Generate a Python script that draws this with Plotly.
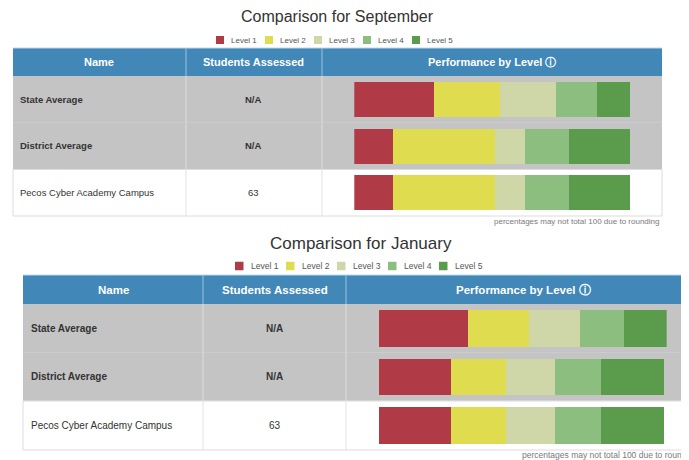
import plotly.graph_objects as go

# The page body adds an 8px margin, so the figure is placed at (8, 8) in the window.
OFF = 8
W, H = 689 - OFF, 460 - OFF

# ---------------- data ----------------
levels = ["Level 1", "Level 2", "Level 3", "Level 4", "Level 5"]
level_colors = ["#b03a46", "#e0dc50", "#cfd6a8", "#8cbe80", "#5a9c4c"]
row_names = ["State Average", "District Average", "Pecos Cyber Academy Campus"]
students_assessed = ["N/A", "N/A", "63"]

sep_level1 = [29, 14, 14]
sep_level2 = [24, 37, 37]
sep_level3 = [20, 11, 11]
sep_level4 = [15, 16, 16]
sep_level5 = [12, 22, 22]

jan_level1 = [31, 25, 25]
jan_level2 = [21, 19, 19]
jan_level3 = [18, 17, 17]
jan_level4 = [15, 16, 16]
jan_level5 = [15, 22, 22]

sep_values = [sep_level1, sep_level2, sep_level3, sep_level4, sep_level5]
jan_values = [jan_level1, jan_level2, jan_level3, jan_level4, jan_level5]

titles = ["Comparison for September", "Comparison for January"]
col_headers = ["Name", "Students Assessed", "Performance by Level \u24d8"]
footnote = "percentages may not total 100 due to rounding"

FONT = "Arial, 'Liberation Sans', Helvetica, sans-serif"
HEADER_BLUE = "#4187b8"
ROW_GRAY = "#c4c4c4"


def px(x):
    return (x - OFF) / W


def py(y):
    return 1 - (y - OFF) / H


fig = go.Figure()
shapes = []
annotations = []

panels = [
    dict(values=sep_values, title=titles[0], title_x=337, title_y=17, title_size=16,
         leg_x=[216, 265, 314, 363, 412], leg_y=40, leg_sq=8, leg_size=8,
         L=13, C1=186, C2=322, R=662, top=48, hdr=76, rows=[76, 122.5, 169.5, 216],
         bar_x=(354.3, 630), hdr_size=11, row_size=9.5, name_pad=5,
         foot_x=661, foot_y=222, foot_anchor="right", foot_size=8,
         xa="x", ya="y"),
    dict(values=jan_values, title=titles[1], title_x=361, title_y=243, title_size=17,
         leg_x=[235, 286, 337, 388, 439], leg_y=266, leg_sq=8.5, leg_size=8.5,
         L=23, C1=203, C2=346, R=700, top=275, hdr=304, rows=[304, 352.5, 401, 450],
         bar_x=(379, 666.7), hdr_size=11.5, row_size=10, name_pad=5.5,
         foot_x=520, foot_y=455, foot_anchor="left", foot_size=8.5,
         xa="x2", ya="y2"),
]

for p in panels:
    annotations.append(dict(x=px(p["title_x"]), y=py(p["title_y"]), xref="paper", yref="paper",
                            text=p["title"], showarrow=False, xanchor="center", yanchor="middle",
                            font=dict(family=FONT, size=p["title_size"], color="#333333")))
    for i, (lv, col) in enumerate(zip(levels, level_colors)):
        lx = p["leg_x"][i]
        s = p["leg_sq"]
        shapes.append(dict(type="rect", xref="paper", yref="paper",
                           x0=px(lx), x1=px(lx + s), y0=py(p["leg_y"] + s / 2), y1=py(p["leg_y"] - s / 2),
                           fillcolor=col, line=dict(width=0), layer="above"))
        annotations.append(dict(x=px(lx + s + 5), y=py(p["leg_y"]), xref="paper", yref="paper",
                                text=lv, showarrow=False, xanchor="left", yanchor="middle",
                                font=dict(family=FONT, size=p["leg_size"], color="#555555")))
    L, C1, C2, R = p["L"], p["C1"], p["C2"], p["R"]
    shapes.append(dict(type="rect", xref="paper", yref="paper", x0=px(L), x1=px(R),
                       y0=py(p["hdr"]), y1=py(p["top"]), fillcolor=HEADER_BLUE,
                       line=dict(width=0), layer="below"))
    shapes.append(dict(type="line", xref="paper", yref="paper", x0=px(L), x1=px(R),
                       y0=py(p["top"]), y1=py(p["top"]), line=dict(color="#bcd9ea", width=1), layer="below"))
    for cx in (C1, C2):
        shapes.append(dict(type="line", xref="paper", yref="paper", x0=px(cx), x1=px(cx),
                           y0=py(p["hdr"]), y1=py(p["top"]), line=dict(color="#9fc3dc", width=1),
                           layer="below"))
    centers = [(L + C1) / 2, (C1 + C2) / 2, (C2 + R) / 2]
    for hx, htxt in zip(centers, col_headers):
        annotations.append(dict(x=px(hx), y=py((p["top"] + p["hdr"]) / 2), xref="paper", yref="paper",
                                text="<b>" + htxt + "</b>", showarrow=False, xanchor="center",
                                yanchor="middle", font=dict(family=FONT, size=p["hdr_size"], color="white")))
    rows = p["rows"]
    for r in range(3):
        y0, y1 = rows[r], rows[r + 1]
        bg = ROW_GRAY if r < 2 else "white"
        shapes.append(dict(type="rect", xref="paper", yref="paper", x0=px(L), x1=px(R),
                           y0=py(y1), y1=py(y0), fillcolor=bg,
                           line=dict(width=1, color="#dcdcdc" if r == 2 else "rgba(0,0,0,0)"),
                           layer="below"))
        if r < 2:
            shapes.append(dict(type="line", xref="paper", yref="paper", x0=px(L), x1=px(R),
                               y0=py(y1), y1=py(y1), line=dict(color="#d2d2d2", width=1), layer="below"))
        for cx in (C1, C2):
            shapes.append(dict(type="line", xref="paper", yref="paper", x0=px(cx), x1=px(cx),
                               y0=py(y1), y1=py(y0),
                               line=dict(color="#dedede" if r < 2 else "#e2e2e2", width=1),
                               layer="below"))
        bold = r < 2
        nm = row_names[r]
        st = students_assessed[r]
        annotations.append(dict(x=px(L + p["name_pad"]), y=py((y0 + y1) / 2), xref="paper", yref="paper",
                                text=("<b>%s</b>" % nm) if bold else nm, showarrow=False,
                                xanchor="left", yanchor="middle",
                                font=dict(family=FONT, size=p["row_size"], color="#333333")))
        annotations.append(dict(x=px((C1 + C2) / 2), y=py((y0 + y1) / 2), xref="paper", yref="paper",
                                text=("<b>%s</b>" % st) if bold else st, showarrow=False,
                                xanchor="center", yanchor="middle",
                                font=dict(family=FONT, size=p["row_size"], color="#333333")))
    annotations.append(dict(x=px(p["foot_x"]), y=py(p["foot_y"]), xref="paper", yref="paper",
                            text=footnote, showarrow=False, xanchor=p["foot_anchor"], yanchor="middle",
                            font=dict(family=FONT, size=p["foot_size"], color="#7a7a7a")))
    for i, (lv, col) in enumerate(zip(levels, level_colors)):
        fig.add_trace(go.Bar(
            x=p["values"][i], y=row_names, orientation="h", name=lv,
            marker=dict(color=col, line=dict(width=0)),
            xaxis=p["xa"], yaxis=p["ya"], showlegend=False,
            hovertemplate="%{y}<br>" + lv + ": %{x}%<extra></extra>",
        ))

top, bot = panels
fig.update_layout(
    width=W, height=H,
    margin=dict(l=0, r=0, t=0, b=0),
    paper_bgcolor="white", plot_bgcolor="rgba(0,0,0,0)",
    barmode="stack", bargap=0.25,
    showlegend=False,
    shapes=shapes, annotations=annotations,
    xaxis=dict(domain=[px(top["bar_x"][0]), px(top["bar_x"][1])], range=[0, 100],
               visible=False, fixedrange=True),
    yaxis=dict(domain=[py(top["rows"][3]), py(top["rows"][0])], categoryorder="array",
               categoryarray=row_names, range=[2.5, -0.5], visible=False, fixedrange=True),
    xaxis2=dict(domain=[px(bot["bar_x"][0]), px(bot["bar_x"][1])], range=[0, 100],
                visible=False, fixedrange=True, anchor="y2"),
    yaxis2=dict(domain=[py(bot["rows"][3]), py(bot["rows"][0])], categoryorder="array",
                categoryarray=row_names, range=[2.5, -0.5], visible=False, fixedrange=True,
                anchor="x2"),
)

fig.write_html("out.html")
